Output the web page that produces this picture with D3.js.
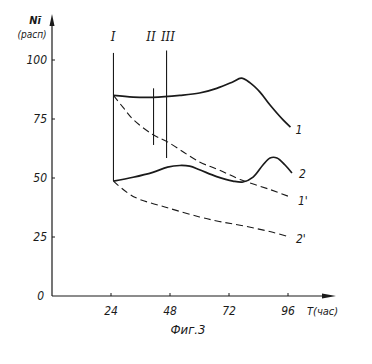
<!DOCTYPE html>
<html>
<head>
<meta charset="utf-8">
<script src="https://cdn.jsdelivr.net/npm/d3@7"></script>
<style>
  body { margin: 0; background: #fff; }
  text { font-family: "DejaVu Sans Condensed", "DejaVu Sans", sans-serif; font-style: oblique; fill: #1a1a1a; }
</style>
</head>
<body>
<div id="chart"></div>
<script>
// Data (time in hours, value in %).
const t1 = [25, 33, 41, 52, 60, 67, 73.5, 77, 80.6, 84.6, 88.7, 94, 97],
      v1 = [85, 84.3, 84.2, 85, 86, 88, 90.7, 92.3, 90.3, 86.4, 80.9, 74.6, 71.6];
const t1d = [25, 29, 33, 41, 47, 60, 68, 76.5, 89, 96.8],
      v1d = [85, 79.8, 74.8, 68.4, 65.3, 56.8, 53.4, 49.4, 45, 42];
const t2 = [25, 33, 41, 47, 52, 56, 60, 67, 73.6, 77.7, 81.8, 85.8, 88.7, 91.5, 94.8, 97.6],
      v2 = [48.7, 50.3, 52.4, 54.6, 55.3, 55, 53.5, 50.6, 48.7, 48.3, 50.4, 55.5, 58.5, 58.5, 55.5, 52.1];
const t2d = [25, 33, 47, 60, 68, 76.5, 89, 96.8],
      v2d = [48.7, 42.2, 37.4, 33.5, 31.6, 30, 27.2, 25];

const xTicks = [24, 48, 72, 96],
      yTicks = [0, 25, 50, 75, 100];

// Marker lines I, II, III: time and value extent.
const markerT = [25, 41.3, 46.6],
      markerLabel = ["I", "II", "III"],
      markerTop = [103, 88, 104],
      markerBottom = [48.7, 64, 58.5];

const width = 372, height = 364;

const svg = d3.select("#chart").append("svg")
    .attr("width", width)
    .attr("height", height);

svg.append("rect").attr("width", width).attr("height", height).attr("fill", "#fff");

// Scales
let x = d3.scaleLinear().domain([0, 96]).range([52, 288]);
let y = d3.scaleLinear().domain([0, 100]).range([296, 60]);

const ink = "#1a1a1a";

// Axes (drawn by hand, like the paper figure)
svg.append("line")
    .attr("x1", x(0)).attr("x2", x(0))
    .attr("y1", y(0)).attr("y2", 20)
    .attr("stroke", ink).attr("stroke-width", 1.2);
svg.append("path")
    .attr("d", `M${x(0)},14 L${x(0) - 2.5},26 L${x(0) + 2.5},26 Z`)
    .attr("fill", ink);

svg.append("line")
    .attr("x1", x(0)).attr("x2", 330)
    .attr("y1", y(0)).attr("y2", y(0))
    .attr("stroke", ink).attr("stroke-width", 1.2);
svg.append("path")
    .attr("d", `M336,${y(0)} L322,${y(0) - 2.5} L322,${y(0) + 2.5} Z`)
    .attr("fill", ink);

// y ticks
svg.selectAll(".ytick")
    .data(yTicks.filter(d => d > 0))
  .join("line")
    .attr("class", "ytick")
    .attr("x1", x(0)).attr("x2", x(0) + 3)
    .attr("y1", d => y(d)).attr("y2", d => y(d))
    .attr("stroke", ink);
svg.selectAll(".ylab")
    .data(yTicks)
  .join("text")
    .attr("class", "ylab")
    .attr("x", d => d == 0 ? 44 : 47)
    .attr("y", d => y(d))
    .attr("dy", "0.35em")
    .attr("text-anchor", "end")
    .style("font-size", "12px")
    .text(d => d);

// x ticks
svg.selectAll(".xtick")
    .data(xTicks)
  .join("line")
    .attr("class", "xtick")
    .attr("x1", d => x(d)).attr("x2", d => x(d))
    .attr("y1", y(0)).attr("y2", y(0) - 3)
    .attr("stroke", ink);
svg.selectAll(".xlab")
    .data(xTicks)
  .join("text")
    .attr("class", "xlab")
    .attr("x", d => x(d))
    .attr("y", 315)
    .attr("text-anchor", "middle")
    .style("font-size", "12px")
    .text(d => d);

svg.append("text").attr("x", 307).attr("y", 315).style("font-size", "11px").text("T(час)");
svg.append("text").attr("x", 188).attr("y", 334).attr("text-anchor", "middle").style("font-size", "13px").text("Фиг.3");
svg.append("text").attr("x", 35).attr("y", 24).attr("text-anchor", "middle")
    .style("font-size", "11px").style("font-weight", "bold").text("Nī");
svg.append("text").attr("x", 32).attr("y", 38).attr("text-anchor", "middle").style("font-size", "10px").text("(расп)");

// Marker lines
const labelX = [113, 151, 168];
markerT.forEach((t, i) => {
    svg.append("line")
        .attr("x1", x(t)).attr("x2", x(t))
        .attr("y1", y(markerTop[i])).attr("y2", y(markerBottom[i]))
        .attr("stroke", ink).attr("stroke-width", 1.1);
    svg.append("text")
        .attr("x", labelX[i]).attr("y", 41)
        .attr("text-anchor", "middle")
        .style("font-family", "DejaVu Serif")
        .style("font-size", "12px")
        .text(markerLabel[i]);
});

// Curves
const line = d3.line()
    .x(d => x(d[0]))
    .y(d => y(d[1]))
    .curve(d3.curveCatmullRom.alpha(0.5));

const series = [
    { t: t1, v: v1, dash: null, w: 1.7, label: "1", dx: 5, dy: 7 },
    { t: t1d, v: v1d, dash: "7,4", w: 1.1, label: "1'", dx: 8, dy: 8 },
    { t: t2, v: v2, dash: null, w: 1.7, label: "2", dx: 7, dy: 5 },
    { t: t2d, v: v2d, dash: "7,4", w: 1.1, label: "2'", dx: 6, dy: 6 }
];

series.forEach(s => {
    const pts = s.t.map((t, i) => [t, s.v[i]]);
    svg.append("path")
        .datum(pts)
        .attr("d", line)
        .attr("fill", "none")
        .attr("stroke", ink)
        .attr("stroke-width", s.w)
        .attr("stroke-dasharray", s.dash);
    const last = pts[pts.length - 1];
    svg.append("text")
        .attr("x", x(last[0]) + s.dx)
        .attr("y", y(last[1]) + s.dy)
        .style("font-size", "12px")
        .text(s.label);
});
</script>
</body>
</html>
